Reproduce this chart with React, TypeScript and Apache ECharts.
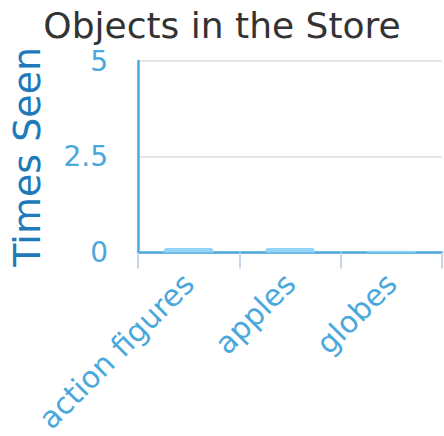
import React, { useEffect, useRef } from "react";
import * as echarts from "echarts";

const categories = ["action figures", "apples", "globes"];
const timesSeen = [0.12, 0.12, 0.05];
const yTicks = { min: 0, max: 5, interval: 2.5 };

export default function App() {
  const ref = useRef<HTMLDivElement>(null);
  useEffect(() => {
    document.body.style.margin = "0";
    const chart = echarts.init(ref.current!, undefined, { renderer: "svg" });
    chart.setOption({
      animation: false,
      textStyle: { fontFamily: "DejaVu Sans" },
      title: {
        text: "Objects in the Store",
        left: "center",
        top: 2,
        textStyle: { fontSize: 36, fontWeight: "normal", color: "#333333", fontFamily: "DejaVu Sans" },
      },
      grid: { left: 135, right: 2, top: 61, bottom: 181, containLabel: false },
      xAxis: {
        type: "category",
        data: categories,
        axisLine: { lineStyle: { color: "#4aa8dc", width: 2.5 } },
        axisTick: { show: true, length: 16, lineStyle: { color: "#c9d5ea", width: 2 } },
        axisLabel: { rotate: 45, fontSize: 30, color: "#4aa8dc", margin: 26, fontFamily: "DejaVu Sans" },
      },
      yAxis: {
        type: "value",
        min: yTicks.min,
        max: yTicks.max,
        interval: yTicks.interval,
        name: "Times Seen",
        nameLocation: "middle",
        nameGap: 92,
        nameTextStyle: { fontSize: 38, color: "#2079b8", fontFamily: "DejaVu Sans" },
        axisLine: { show: true, lineStyle: { color: "#4aa8dc", width: 2.5 } },
        axisTick: { show: false },
        axisLabel: { fontSize: 28, color: "#4aa8dc", margin: 30, fontFamily: "DejaVu Sans" },
        splitLine: { lineStyle: { color: "#e6e6e6", width: 2 } },
      },
      series: [
        {
          type: "bar",
          data: timesSeen,
          barWidth: "49%",
          itemStyle: { color: "#93d5f8", borderRadius: [3, 3, 0, 0] },
        },
      ],
    });
    return () => chart.dispose();
  }, []);
  return <div ref={ref} style={{ width: 444, height: 436 }} />;
}
